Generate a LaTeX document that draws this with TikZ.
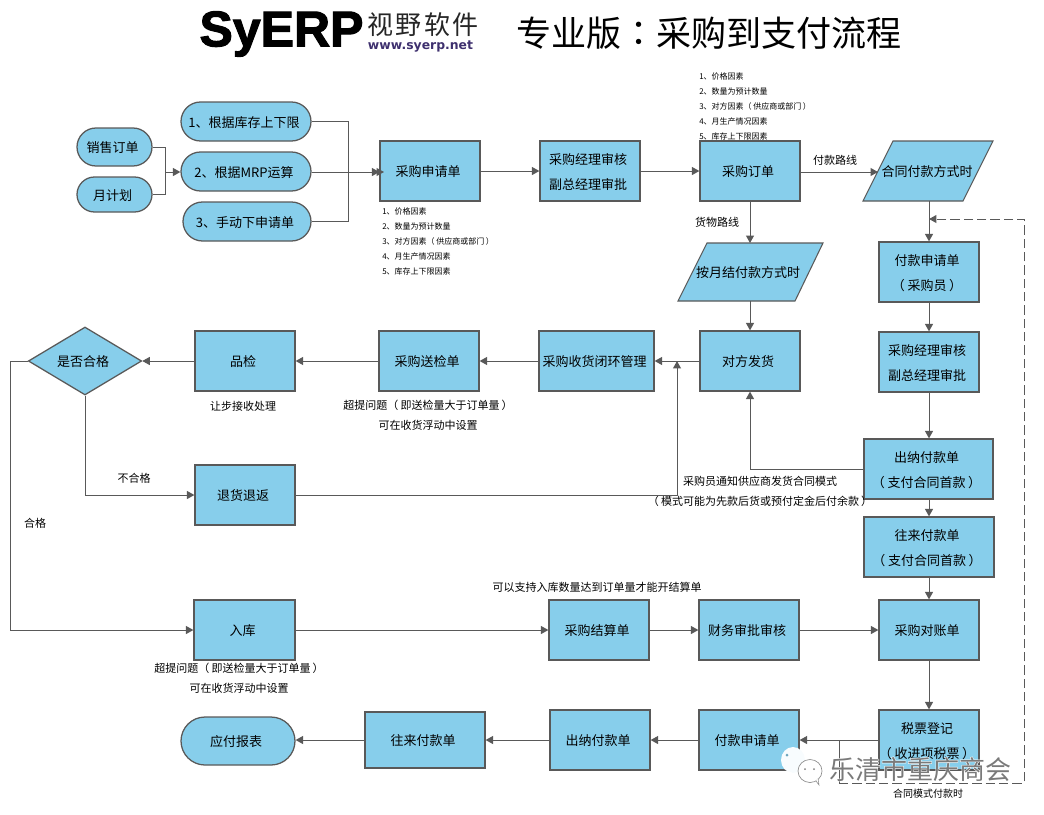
\documentclass[tikz,border=0pt]{standalone}
\usepackage{fontspec}
\setmainfont{Noto Sans CJK SC}
\newfontfamily\tcfont{Noto Sans CJK TC}
\newfontfamily\logofont[BoldFeatures={FakeBold=2.2}]{Liberation Sans}
\newfontfamily\urlfont{DejaVu Sans}
\usetikzlibrary{arrows.meta,shapes.geometric,shapes.misc}
\definecolor{skyfill}{RGB}{135,206,235}
\definecolor{edgegray}{RGB}{89,89,89}
\definecolor{logopurple}{RGB}{62,48,110}
\newcommand{\lpar}{{\tcfont （}\kern0.2em}
\newcommand{\rpar}{\kern0.2em{\tcfont ）}}
\tikzset{
  flowbox/.style={draw=edgegray,line width=0.95pt,fill=skyfill,inner sep=0pt},
  pillbox/.style={flowbox,rounded rectangle,rounded rectangle arc length=180},
  boxtext/.style={inner sep=0pt,text=black,align=center,font=\fontsize{9.75}{18.75}\selectfont},
  paraedge/.style={draw=edgegray,line width=0.8pt,fill=skyfill},
  conn/.style={draw=edgegray,line width=0.75pt},
  arr/.style={conn,-{Triangle[length=5.6pt,width=6pt,fill=edgegray]}},
  dasharr/.style={arr,dash pattern=on 7pt off 3pt},
  note/.style={inner sep=0pt,text=black,align=center,font=\fontsize{8.25}{15}\selectfont},
  tiny list/.style={inner sep=0pt,text=black,align=left,anchor=west,font=\fontsize{6}{11.25}\selectfont},
}
\newcommand{\placebox}[7][flowbox]{%
  \pgfmathsetmacro\myx{(#3+#5)/2}\pgfmathsetmacro\myy{(#4+#6)/2}%
  \pgfmathsetmacro\myw{(#5-#3)*0.75}\pgfmathsetmacro\myh{(#6-#4)*0.75}%
  \node[#1,minimum width=\myw pt,minimum height=\myh pt] (#2) at (\myx,\myy) {};
  \node[boxtext] (#2txt) at (\myx-2,\myy+1) {#7};}
\begin{document}
\begin{tikzpicture}[x=0.75pt,y=-0.75pt]
\useasboundingbox (0,0) rectangle (1044,814);
% header
\node[inner sep=0pt,font=\logofont\bfseries\fontsize{37.5}{38}\selectfont,text=black] (logo) at (281.5,34) {SyERP};
\node[inner sep=0pt,font=\fontsize{19.5}{20}\selectfont\addfontfeatures{LetterSpace=9},text=black!85] (logocn) at (423,25) {视野软件};
\node[inner sep=0pt,font=\urlfont\bfseries\fontsize{9.3}{9}\selectfont,text=logopurple] (logourl) at (420.5,46) {www.syerp.net};
\node[inner sep=0pt,font=\fontsize{26.3}{30}\selectfont,text=black] (title) at (709,33) {专业版{\tcfont ：}采购到支付流程};
% top row
\placebox[pillbox]{sale}{77}{128}{152}{166}{销售订单}
\placebox[pillbox]{month}{77}{177}{152}{212}{月计划}
\placebox[pillbox]{rule1}{181}{102}{311}{141}{1、根据库存上下限}
\placebox[pillbox]{rule2}{181}{152}{311}{191}{2、根据MRP运算}
\placebox[pillbox]{rule3}{183}{202}{311}{241}{3、手动下申请单}
\placebox{req}{380}{141}{480}{201}{采购申请单}
\placebox{appr}{540}{141}{640}{201}{采购经理审核\\副总经理审批}
\placebox{order}{700}{141}{800}{201}{采购订单}
\draw[paraedge] (893,141) -- (993,141) -- (963,201) -- (863,201) -- cycle;
\node[boxtext] (contract) at (927,172) {合同付款方式时};
\draw[paraedge] (707,243) -- (823,243) -- (795,301) -- (678,301) -- cycle;
\node[boxtext] (monthly) at (748,273) {按月结付款方式时};
\coordinate (contractW) at (878,172);
\coordinate (contractS) at (929,201);
\coordinate (monthlyN) at (750,243);
\coordinate (monthlyS) at (750,301);
% right column
\placebox{payreq}{879}{242}{979}{302}{付款申请单\\\lpar 采购员\rpar}
\placebox{appr2}{879}{332}{979}{392}{采购经理审核\\副总经理审批}
\placebox{cash}{864}{439}{993}{499}{出纳付款单\\\lpar 支付合同首款\rpar}
\placebox{acct}{864}{517}{994}{577}{往来付款单\\\lpar 支付合同首款\rpar}
\placebox{recon}{879}{600}{979}{660}{采购对账单}
\placebox{tax}{879}{710}{979}{770}{税票登记\\\lpar 收进项税票\rpar}
% middle row
\placebox{ship}{700}{331}{800}{391}{对方发货}
\placebox{close}{539}{331}{654}{391}{采购收货闭环管理}
\placebox{send}{379}{331}{479}{391}{采购送检单}
\placebox{qc}{195}{331}{295}{391}{品检}
\node[flowbox,diamond,aspect=1.66,minimum width=85pt,minimum height=51pt] (ok) at (85,361) {};
\node[boxtext] (oktxt) at (83,362) {是否合格};
\placebox{ret}{195}{465}{295}{525}{退货退返}
% lower rows
\placebox{stock}{194}{600}{295}{660}{入库}
\placebox{settle}{549}{600}{649}{660}{采购结算单}
\placebox{fin}{699}{600}{799}{660}{财务审批审核}
\placebox{payreq2}{699}{710}{799}{770}{付款申请单}
\placebox{cash2}{550}{710}{650}{770}{出纳付款单}
\placebox{acct2}{365}{712}{485}{768}{往来付款单}
\placebox[pillbox]{report}{181}{717}{295}{765}{应付报表}
% text notes
\node[tiny list] (list1) at (382,241) {1、价格因素\\2、数量为预计数量\\3、对方因素\lpar 供应商或部门\rpar\\4、月生产情况因素\\5、库存上下限因素};
\node[tiny list] (list2) at (699,106) {1、价格因素\\2、数量为预计数量\\3、对方因素\lpar 供应商或部门\rpar\\4、月生产情况因素\\5、库存上下限因素};
\node[note] (lpay) at (835,160) {付款路线};
\node[note] (lgoods) at (717,222) {货物路线};
\node[note] (lfail) at (134,478) {不合格};
\node[note] (lpass) at (35,523) {合格};
\node[note] (lqc) at (243,406) {让步接收处理};
\node[note] (lsend) at (428,415) {超提问题\lpar 即送检量大于订单量\rpar\\可在收货浮动中设置};
\node[note] (lstock) at (239,678) {超提问题\lpar 即送检量大于订单量\rpar\\可在收货浮动中设置};
\node[note] (lsettle) at (597,587) {可以支持入库数量达到订单量才能开结算单};
\node[note] (lmode) at (760,491) {采购员通知供应商发货合同模式\\\lpar 模式可能为先款后货或预付定金后付余款\rpar};
\node[inner sep=0pt,text=black,font=\fontsize{7.5}{9}\selectfont] (lcon) at (928,794) {合同模式付款时};
% connectors: inputs
\coordinate (joinL) at (165,172);
\draw[conn] (sale.east) -| (joinL);
\draw[conn] (month.east) -| (joinL);
\draw[arr] (joinL) -- (joinL -| rule2.west);
\coordinate (joinR) at (348,172);
\coordinate (reqTip) at (384,172);
\draw[conn] (rule1.east) -| (joinR);
\draw[conn] (rule3.east) -| (joinR);
\draw[arr] (joinR) -- (reqTip);
\draw[arr] (joinR -| rule2.east) -- (joinR -| req.west);
\draw[arr] (req.east) -- (appr.west);
\draw[arr] (appr.east) -- (order.west);
\draw[arr] (order.east |- contractW) -- (contractW);
\draw[arr] (order.south) -- (monthlyN);
\draw[arr] (monthlyS) -- (ship.north);
\draw[arr] (contractS) -- (payreq.north);
\draw[arr] (payreq.south) -- (appr2.north);
\draw[arr] (appr2.south) -- (appr2.south |- cash.north);
\draw[arr] (cash.south -| appr2.south) -- (appr2.south |- acct.north);
\draw[arr] (acct.south -| appr2.south) -- (recon.north);
\draw[arr] (recon.south) -- (tax.north);
\draw[arr] (cash.west) -| (ship.south);
\draw[arr] (ship.west) -- (close.east);
\draw[arr] (close.west) -- (send.east);
\draw[arr] (send.west) -- (qc.east);
\draw[arr] (qc.west) -- (ok.east);
\draw[arr] (ok.south) |- (ret.west);
\coordinate (retTip) at (677,361);
\draw[arr] (ret.east) -| (retTip);
\coordinate (passTurn) at (10,361);
\draw[arr] (ok.west) -- (passTurn) |- (stock.west);
\draw[arr] (stock.east) -- (settle.west);
\draw[arr] (settle.east) -- (fin.west);
\draw[arr] (fin.east) -- (recon.west);
\draw[arr] (tax.west) -- (payreq2.east);
\draw[arr] (payreq2.west) -- (cash2.east);
\draw[arr] (cash2.west) -- (cash2.west -| acct2.east);
\draw[arr] (acct2.west |- cash2.west) -- (cash2.west -| report.east);
% dashed feedback
\coordinate (fbStart) at (839,740);
\coordinate (fbLow) at (839,783);
\coordinate (fbCorner) at (1024,783);
\coordinate (fbTop) at (1024,219);
\coordinate (fbEnd) at (929,219);
\draw[conn] (fbStart) -- (fbLow);
\draw[dasharr] (fbLow) -- (fbCorner) -- (fbTop) -- (fbEnd);
% watermark
\fill[white!94!skyfill] (793,760) ellipse (12 and 13);
\fill[white,draw=black!45,line width=0.5pt] (810,771) ellipse (12 and 11.5);
\fill[white] (782,771) -- (786,780) -- (792,772) -- cycle;
\fill[white,draw=black!45,line width=0.4pt] (816,781) -- (819,785) -- (818,778);
\fill[skyfill!80!black] (787,755) circle (1.5);
\fill[black!50] (805,769) circle (1) (814,769) circle (1);
\node[inner sep=0pt,text=white,font=\fontsize{19.5}{20}\selectfont\addfontfeatures{FakeBold=3}] (markhalo) at (920,769) {乐清市重庆商会};
\node[inner sep=0pt,text=black!52,font=\fontsize{19.5}{20}\selectfont] (mark) at (920,769) {乐清市重庆商会};
\end{tikzpicture}
\end{document}
